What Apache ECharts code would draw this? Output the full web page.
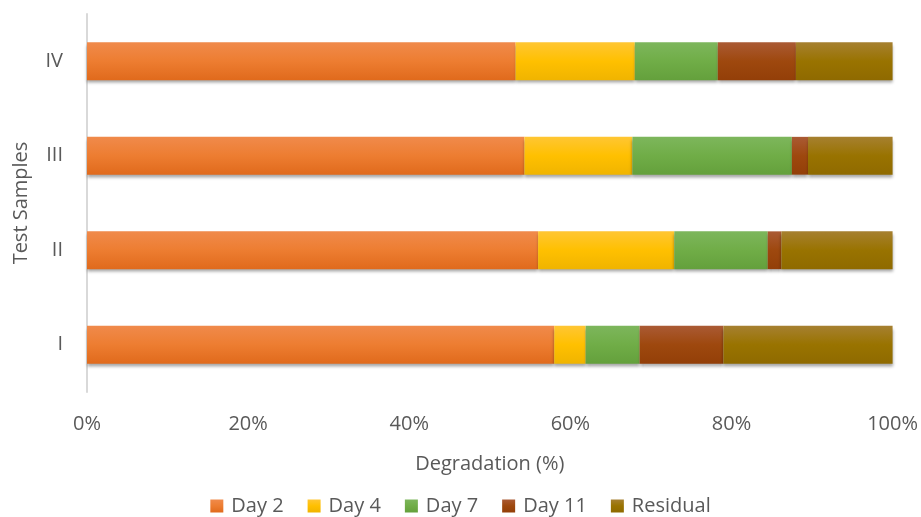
<!DOCTYPE html>
<html>
<head>
<meta charset="utf-8">
<script src="https://cdn.jsdelivr.net/npm/echarts@6/dist/echarts.min.js"></script>
<style>
  html, body { margin: 0; padding: 0; background: #fff; }
  #chart { width: 921px; height: 517px; }
</style>
</head>
<body>
<div id="chart"></div>
<script>
// Sample categories (bottom to top) and per-stage degradation shares (%)
const samples = ['I', 'II', 'III', 'IV'];
const seriesNames = ['Day 2', 'Day 4', 'Day 7', 'Day 11', 'Residual'];
const day2 = [58.0, 56.0, 54.3, 53.2];
const day4 = [3.9, 16.9, 13.4, 14.8];
const day7 = [6.7, 11.6, 19.8, 10.3];
const day11 = [10.4, 1.7, 2.0, 9.7];
const residual = [21.0, 13.8, 10.5, 12.0];
const xTicks = [0, 20, 40, 60, 80, 100];

const values = [day2, day4, day7, day11, residual];
// [light top, base, dark bottom]
const palette = [
  ['#F08A4B', '#ED7D31', '#E06A1C'],
  ['#FFC633', '#FFC000', '#F0B400'],
  ['#7DB65C', '#70AD47', '#64A03C'],
  ['#AA5A34', '#9E480E', '#933F08'],
  ['#A68030', '#997300', '#8F6A00']
];
const font = '"Open Sans", Lato, sans-serif';
const textColor = '#595959';

const chart = echarts.init(document.getElementById('chart'));
chart.setOption({
  animation: false,
  grid: { left: 87, right: 28, top: 14, bottom: 125 },
  legend: {
    top: 491,
    left: 'center',
    itemWidth: 13,
    itemHeight: 13,
    itemGap: 24,
    icon: 'rect',
    textStyle: { color: textColor, fontSize: 20, fontFamily: font, padding: [0, 0, 0, 3] },
    data: seriesNames
  },
  xAxis: {
    type: 'value',
    min: 0,
    max: 100,
    interval: 20,
    name: 'Degradation (%)',
    nameLocation: 'middle',
    nameGap: 62,
    nameTextStyle: { color: textColor, fontSize: 20, fontFamily: font },
    axisLine: { show: false },
    axisTick: { show: false },
    splitLine: { show: false },
    axisLabel: {
      color: textColor, fontSize: 20, fontFamily: font, margin: 22,
      formatter: v => xTicks.includes(v) ? v + '%' : ''
    }
  },
  yAxis: {
    type: 'category',
    data: samples,
    name: 'Test Samples',
    nameLocation: 'middle',
    nameGap: 56,
    nameRotate: 90,
    nameTextStyle: { color: textColor, fontSize: 20, fontFamily: font },
    axisLine: { show: true, lineStyle: { color: '#D9D9D9', width: 2 } },
    axisTick: { show: false },
    axisLabel: { color: textColor, fontSize: 20, fontFamily: font, margin: 24 }
  },
  series: seriesNames.map((name, i) => ({
    name,
    type: 'bar',
    stack: 'total',
    barWidth: '40%',
    data: values[i],
    itemStyle: {
      color: new echarts.graphic.LinearGradient(0, 0, 0, 1, [
        { offset: 0, color: palette[i][0] },
        { offset: 0.5, color: palette[i][1] },
        { offset: 1, color: palette[i][2] }
      ]),
      shadowColor: 'rgba(0,0,0,0.35)',
      shadowBlur: 3,
      shadowOffsetY: 3
    }
  }))
});
</script>
</body>
</html>
